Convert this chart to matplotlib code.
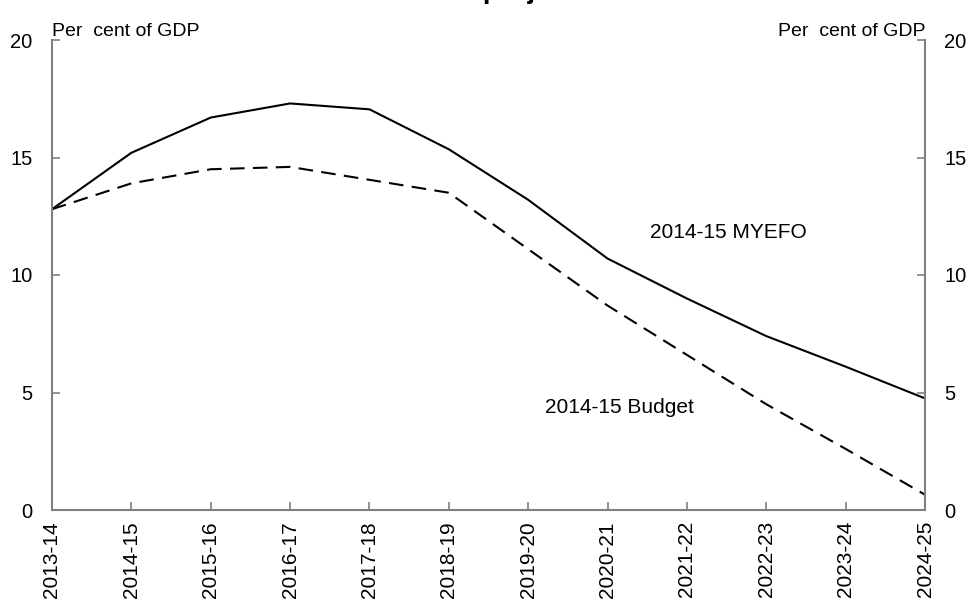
import matplotlib.pyplot as plt
import numpy as np

plt.rcParams['font.family'] = ['Liberation Sans', 'DejaVu Sans']

years = ['2013-14', '2014-15', '2015-16', '2016-17', '2017-18', '2018-19',
         '2019-20', '2020-21', '2021-22', '2022-23', '2023-24', '2024-25']
myefo = [12.8, 15.2, 16.7, 17.3, 17.05, 15.35, 13.2, 10.7, 9.0, 7.4, 6.1, 4.75]
budget = [12.8, 13.9, 14.5, 14.6, 14.05, 13.5, 11.1, 8.7, 6.6, 4.5, 2.6, 0.65]

grey = '#808080'
x = np.arange(len(years))

fig = plt.figure(figsize=(9.69, 6.02), dpi=100)
ax = fig.add_axes([52 / 969, 1 - 510 / 602, 873 / 969, 470 / 602])

ax.plot(x, myefo, color='black', lw=1.5)
ax.plot(x, budget, color='black', lw=1.5, ls=(0, (7, 4)))

ax.set_xlim(0, len(years) - 1)
ax.set_ylim(0, 20)
ax.set_yticks([0, 5, 10, 15, 20])
ax.set_xticks(x)
ax.set_xticklabels(years, rotation=90, fontsize=15)

ax.spines['top'].set_visible(False)
for s in ['left', 'right', 'bottom']:
    ax.spines[s].set_color(grey)
    ax.spines[s].set_linewidth(1.5)

ax.tick_params(axis='x', direction='in', length=6, color=grey, width=1.2, pad=8)
ax.tick_params(axis='y', direction='in', length=6, color=grey, width=1.2,
               labelsize=14.5, pad=14, left=True, right=True,
               labelleft=True, labelright=True)

ax.text(0.0, 1.0, 'Per  cent of GDP', transform=ax.transAxes, fontsize=14,
        ha='left', va='bottom')
ax.text(1.0, 1.0, 'Per  cent of GDP', transform=ax.transAxes, fontsize=14,
        ha='right', va='bottom')

ax.text(8.52, 11.8, '2014-15 MYEFO', fontsize=15, ha='center', va='center')
ax.text(7.15, 4.35, '2014-15 Budget', fontsize=15, ha='center', va='center')

# title sits above the top edge, only its descenders show (as in the source)
fig.text(498 / 969, 1 + 2 / 602, 'Net debt projections', fontsize=20,
         weight='bold', ha='center', va='baseline')

fig.savefig('out.png', dpi=100)
